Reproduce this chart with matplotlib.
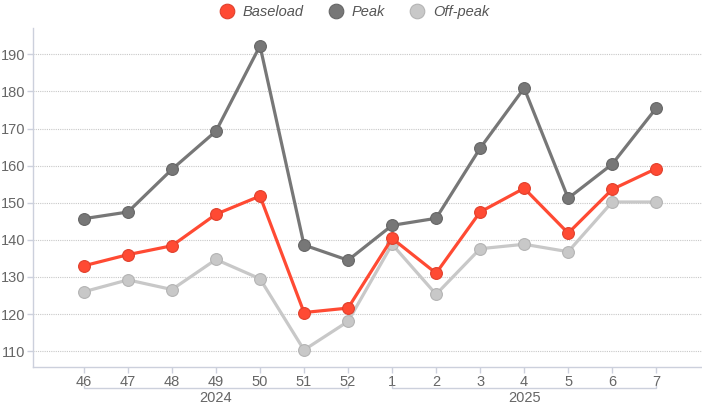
import matplotlib.pyplot as plt
import matplotlib.transforms as mtransforms
from matplotlib.lines import Line2D

plt.rcParams['font.family'] = ['Liberation Sans', 'DejaVu Sans']

# week numbers and years
weeks = ['46', '47', '48', '49', '50', '51', '52', '1', '2', '3', '4', '5', '6', '7']
years = ['2024', '2025']
year_spans = [(0, 6), (7, 13)]

# prices
baseload = [133.0, 136.0, 138.4, 146.9, 151.8, 120.4, 121.6, 140.4, 131.0, 147.5, 153.9, 141.8, 153.6, 159.2]
peak = [145.7, 147.5, 159.0, 169.3, 192.3, 138.6, 134.5, 143.9, 145.8, 164.7, 180.9, 151.2, 160.4, 175.5]
offpeak = [126.0, 129.2, 126.6, 134.7, 129.5, 110.3, 118.0, 138.8, 125.3, 137.6, 138.8, 136.8, 150.2, 150.2]

series = [
    ('Baseload', baseload, '#ff4a33', '#e0402c'),
    ('Peak', peak, '#777777', '#666666'),
    ('Off-peak', offpeak, '#c8c8c8', '#b4b4b4'),
]

fig = plt.figure(figsize=(7.02, 4.12), dpi=100)
ax = fig.add_axes([0.0474, 0.11, 0.9526, 0.822])

x = list(range(len(weeks)))
# draw back to front: off-peak, peak, baseload
for name, vals, col, edge in reversed(series):
    ax.plot(x, vals, color=col, lw=2.3, marker='o', ms=8.5,
            markerfacecolor=col, markeredgecolor=edge, markeredgewidth=0.8,
            solid_joinstyle='round', zorder=3)

ax.set_xlim(-1.15, 14.04)
ax.set_ylim(105.8, 197.1)
ax.set_xticks(x)
ax.set_xticklabels(weeks)
ax.set_yticks(range(110, 191, 10))

ax.grid(axis='y', color='#c8c8c8', linestyle=(0, (1, 1)), linewidth=0.8)
ax.set_axisbelow(True)

for s in ['top', 'right']:
    ax.spines[s].set_visible(False)
for s in ['left', 'bottom']:
    ax.spines[s].set_color('#ccd0dc')
    ax.spines[s].set_linewidth(1.0)

ax.tick_params(axis='both', colors='#ccd0dc', labelcolor='#666666', labelsize=10.5, length=4, width=1)
ax.tick_params(axis='x', pad=2)
ax.tick_params(axis='y', pad=2)

# year brackets under the week labels
trans = mtransforms.blended_transform_factory(ax.transData, ax.transAxes)
for year, (a, b) in zip(years, year_spans):
    ax.plot([a, a, b, b], [-0.057, -0.064, -0.064, -0.057], color='#ccd0dc', lw=1,
            transform=trans, clip_on=False)
    ax.text((a + b) / 2, -0.073, year, transform=trans, ha='center', va='top',
            color='#666666', fontsize=10.5)

handles = [Line2D([], [], ls='none', marker='o', ms=10.5, markerfacecolor=c,
                  markeredgecolor=e, markeredgewidth=0.8) for _, _, c, e in series]
fig.legend(handles, [s[0] for s in series], loc='upper center', bbox_to_anchor=(0.5, 1.02),
           ncol=3, frameon=False, handletextpad=0.1, columnspacing=1.2,
           prop={'style': 'italic', 'size': 10.5}, labelcolor='#555555')

fig.savefig('out.png', dpi=100)
